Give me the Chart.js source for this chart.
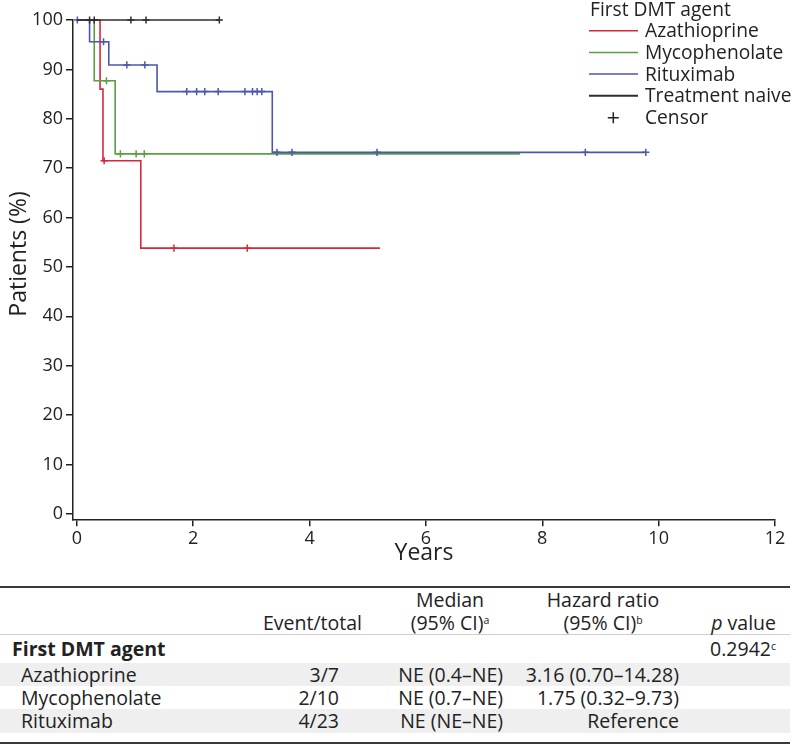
<!DOCTYPE html>
<html>
<head>
<meta charset="utf-8">
<script src="https://cdn.jsdelivr.net/npm/chart.js@4.4.1/dist/chart.umd.min.js"></script>
<style>
html,body{margin:0;padding:0;background:#fff;}
body{width:794px;height:745px;overflow:hidden;font-family:'Open Sans',sans-serif;color:#222;position:relative;}
#wrap{position:absolute;left:0;top:0;width:794px;height:580px;}
#tbl{position:absolute;left:0;top:586px;width:790px;border-collapse:separate;border-spacing:0;table-layout:fixed;font-size:19.5px;
  border-top:2px solid #3a3a3a;border-bottom:2px solid #3a3a3a;}
#tbl td,#tbl th{padding:0;font-weight:normal;white-space:nowrap;vertical-align:middle;}
#tbl tr.h1 td{height:23px;line-height:23px;}
#tbl tr.h2 td{height:23px;line-height:23px;border-bottom:1px solid #cfcfcf;}
#tbl tr.grp td{height:28px;line-height:28px;padding-top:0;}
#tbl tr.row td{height:23px;line-height:23px;}
#tbl tr.row.last td{height:24px;line-height:24px;}
#tbl tr.shade td{background:#efefef;}
#tbl tr.sp td{height:9px;line-height:9px;}
#tbl .c{text-align:center;}
#tbl .c2h{text-align:right;padding-right:18px;}
#tbl .c2{text-align:right;padding-right:41px;}
#tbl .c3{text-align:right;padding-right:17px;}
#tbl .c4{text-align:right;padding-right:7px;}
#tbl .c5{text-align:right;padding-right:14px;}
#tbl .lab{padding-left:21px;}
#tbl .grpLab{padding-left:12px;font-weight:bold;}
#tbl sup{font-size:10.5px;line-height:0;vertical-align:6px;}
</style>
</head>
<body>
<div id="wrap"><canvas id="c" width="794" height="580"></canvas></div>
<table id="tbl"></table>
<script>
// ---- data ----
const seriesNames = ['Azathioprine', 'Mycophenolate', 'Rituximab', 'Treatment naive'];
const seriesColors = ['#d42a36', '#5d9e40', '#4c58ab', '#2e2e2e'];
const legendTitle = 'First DMT agent';
const censorLabel = 'Censor';

const azaTimes = [0, 0.40, 0.45, 1.10, 5.21];
const azaSurv = [100, 86.0, 71.5, 53.8, 53.8];
const azaCensor = [0.47, 1.67, 2.93];

const mycoTimes = [0, 0.30, 0.66, 7.62];
const mycoSurv = [100, 87.7, 72.9, 72.9];
const mycoCensor = [0.51, 0.75, 1.02, 1.16];

const rituxTimes = [0, 0.22, 0.55, 1.38, 3.36, 9.78];
const rituxSurv = [100, 95.6, 90.9, 85.5, 73.2, 73.2];
const rituxCensor = [0.01, 0.46, 0.86, 1.17, 1.89, 2.06, 2.20, 2.43, 2.89, 3.02, 3.10, 3.18, 3.44, 3.70, 5.16, 8.74, 9.78];

const naiveTimes = [0, 2.45];
const naiveSurv = [100, 100];
const naiveCensor = [0.22, 0.30, 0.93, 1.19, 2.45];

const xTickValues = [0, 2, 4, 6, 8, 10, 12];
const yTickValues = [0, 10, 20, 30, 40, 50, 60, 70, 80, 90, 100];

// table content
const tableHeader1 = ['', '', 'Median', 'Hazard ratio', ''];
const tableHeader2 = ['', 'Event/total', '(95% CI)<sup>a</sup>', '(95% CI)<sup>b</sup>', '<i>p</i> value'];
const groupLabel = 'First DMT agent';
const groupP = '0.2942<sup>c</sup>';
const rowNames = ['Azathioprine', 'Mycophenolate', 'Rituximab'];
const rowEvents = ['3/7', '2/10', '4/23'];
const rowMedian = ['NE (0.4–NE)', 'NE (0.7–NE)', 'NE (NE–NE)'];
const rowHR = ['3.16 (0.70–14.28)', '1.75 (0.32–9.73)', 'Reference'];

// ---- build table ----
(function(){
  const t = document.getElementById('tbl');
  let h = '<colgroup><col style="width:250px"><col style="width:130px"><col style="width:140px"><col style="width:166px"><col style="width:104px"></colgroup>';
  h += '<tr class="h1"><td></td><td></td><td class="c">' + tableHeader1[2] + '</td><td class="c">' + tableHeader1[3] + '</td><td></td></tr>';
  h += '<tr class="h2"><td></td><td class="c2h">' + tableHeader2[1] + '</td><td class="c">' + tableHeader2[2] + '</td><td class="c">' + tableHeader2[3] + '</td><td class="c5">' + tableHeader2[4] + '</td></tr>';
  h += '<tr class="grp"><td class="grpLab">' + groupLabel + '</td><td></td><td></td><td></td><td class="c5">' + groupP + '</td></tr>';
  rowNames.forEach((n, i) => {
    const cls = 'row' + (i % 2 === 0 ? ' shade' : '') + (i === rowNames.length - 1 ? ' last' : '');
    h += '<tr class="' + cls + '"><td class="lab">' + n + '</td><td class="c2">' + rowEvents[i] + '</td><td class="c3">' + rowMedian[i] + '</td><td class="c4">' + rowHR[i] + '</td><td></td></tr>';
  });
  h += '<tr class="sp"><td></td><td></td><td></td><td></td><td></td></tr>';
  t.innerHTML = h;
})();

// ---- chart ----
function stepPoints(times, surv) { return times.map((t, i) => ({x: t, y: surv[i]})); }
function survAt(times, surv, t) { let v = surv[0]; for (let i = 0; i < times.length; i++) { if (times[i] <= t) v = surv[i]; } return v; }
function censorPoints(times, surv, cens) { return cens.map(c => ({x: c, y: survAt(times, surv, c)})); }

const series = [
  {t: naiveTimes, s: naiveSurv, c: naiveCensor, col: seriesColors[3]},
  {t: rituxTimes, s: rituxSurv, c: rituxCensor, col: seriesColors[2]},
  {t: mycoTimes, s: mycoSurv, c: mycoCensor, col: seriesColors[1]},
  {t: azaTimes, s: azaSurv, c: azaCensor, col: seriesColors[0]}
];
const datasets = [];
series.forEach(sr => {
  datasets.push({
    data: censorPoints(sr.t, sr.s, sr.c), showLine: false, pointStyle: 'cross',
    pointRadius: 3.6, pointBorderWidth: 1.5, pointBorderColor: sr.col, borderColor: sr.col, clip: false
  });
  datasets.push({
    data: stepPoints(sr.t, sr.s), stepped: 'before', borderColor: sr.col, borderWidth: 1.6,
    pointRadius: 0, fill: false, clip: false
  });
});

Chart.defaults.font.family = "'Open Sans', sans-serif";
Chart.defaults.color = '#222';

const overlay = {
  id: 'overlay',
  afterDraw(chart) {
    const ctx = chart.ctx;
    ctx.save();
    ctx.fillStyle = '#222';
    ctx.font = '19.2px "Open Sans"';
    ctx.textAlign = 'left';
    ctx.textBaseline = 'alphabetic';
    ctx.fillText(legendTitle, 590, 16);
    const order = [0, 1, 2, 3];
    order.forEach((i, k) => {
      const base = 37.3 + k * 21.7;
      ctx.strokeStyle = seriesColors[i];
      ctx.lineWidth = i === 3 ? 2 : 1.5;
      ctx.beginPath(); ctx.moveTo(589, base - 6.6); ctx.lineTo(638, base - 6.6); ctx.stroke();
      ctx.fillText(seriesNames[i], 645, base);
    });
    const cb = 37.3 + 4 * 21.7;
    ctx.strokeStyle = '#222'; ctx.lineWidth = 1.5;
    ctx.beginPath();
    ctx.moveTo(613.3 - 5.5, cb - 6.3); ctx.lineTo(613.3 + 5.5, cb - 6.3);
    ctx.moveTo(613.3, cb - 11.8); ctx.lineTo(613.3, cb - 0.8);
    ctx.stroke();
    ctx.fillText(censorLabel, 645, cb);
    // y axis title
    ctx.translate(19, 254);
    ctx.rotate(-Math.PI / 2);
    ctx.textAlign = 'center';
    ctx.textBaseline = 'middle';
    ctx.font = '23px "Open Sans"';
    ctx.fillText('Patients (%)', 0, 0);
    ctx.restore();
  }
};

new Chart(document.getElementById('c'), {
  type: 'line',
  data: {datasets},
  plugins: [overlay],
  options: {
    responsive: false,
    animation: false,
    events: [],
    layout: {padding: {top: 20, right: 19, left: 0, bottom: 0}},
    plugins: {legend: {display: false}, tooltip: {enabled: false}},
    scales: {
      x: {
        type: 'linear', min: -0.065, max: 12,
        afterBuildTicks(s) { s.ticks = xTickValues.map(v => ({value: v})); },
        ticks: {font: {size: 18}, color: '#222', padding: 2, maxRotation: 0, autoSkip: false},
        grid: {drawOnChartArea: false, drawTicks: true, tickLength: 7, color: '#222', lineWidth: 1.5},
        border: {color: '#222', width: 1.5},
        title: {display: true, text: 'Years', font: {size: 23}, color: '#222', padding: {top: 0, bottom: 13}},
        afterFit(s) { s.height = 60.7; }
      },
      y: {
        type: 'linear', min: -1.1, max: 100,
        afterBuildTicks(s) { s.ticks = yTickValues.map(v => ({value: v})); },
        ticks: {font: {size: 18}, color: '#222', padding: 3, autoSkip: false},
        grid: {drawOnChartArea: false, drawTicks: true, tickLength: 7, color: '#222', lineWidth: 1.5},
        border: {color: '#222', width: 1.5},
        afterFit(s) { s.width = 73; }
      }
    }
  }
});
</script>
</body>
</html>
